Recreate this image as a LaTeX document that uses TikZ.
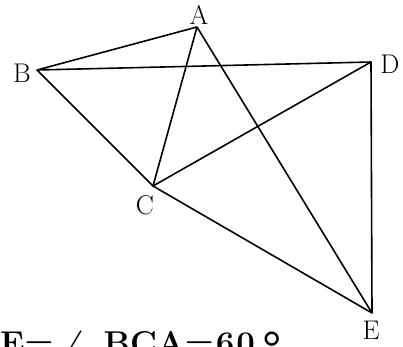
\documentclass[tikz,border=0pt]{standalone}
\usepackage{fontspec}
\begin{document}
\begin{tikzpicture}[x=1pt,y=-1pt,
  seg/.style={line width=1.6pt, line join=round},
  lab/.style={font={\fontsize{27}{27}\selectfont}, inner sep=0pt},
  big/.style={font={\fontsize{33}{33}\selectfont\bfseries\boldmath}, inner sep=0pt, anchor=base west}]
\useasboundingbox (0,0) rectangle (403,346);
\clip (0,0) rectangle (403,346);
\coordinate (A) at (197,27);
\coordinate (B) at (37,70);
\coordinate (C) at (153,186);
\coordinate (D) at (371,62);
\coordinate (E) at (372,313);
\draw[seg] (A) -- (B) -- (D) -- (E) -- (C) -- (B);
\draw[seg] (A) -- (C) -- (D);
\draw[seg] (A) -- (E);
\node[lab] (lA) at (199,15) {A};
\node[lab] (lB) at (22,73) {B};
\node[lab] (lC) at (145,205) {C};
\node[lab] (lD) at (390,64) {D};
\node[lab] (lE) at (371,330) {E};
\node[big] (t) at (0,354) {E=\hspace{10pt}$\angle$\hspace{18pt}BCA=\hspace{2pt}6\hspace{2pt}0\hspace{8pt}\raisebox{-9pt}{\fontsize{46}{46}\selectfont\textdegree}};
\end{tikzpicture}
\end{document}
